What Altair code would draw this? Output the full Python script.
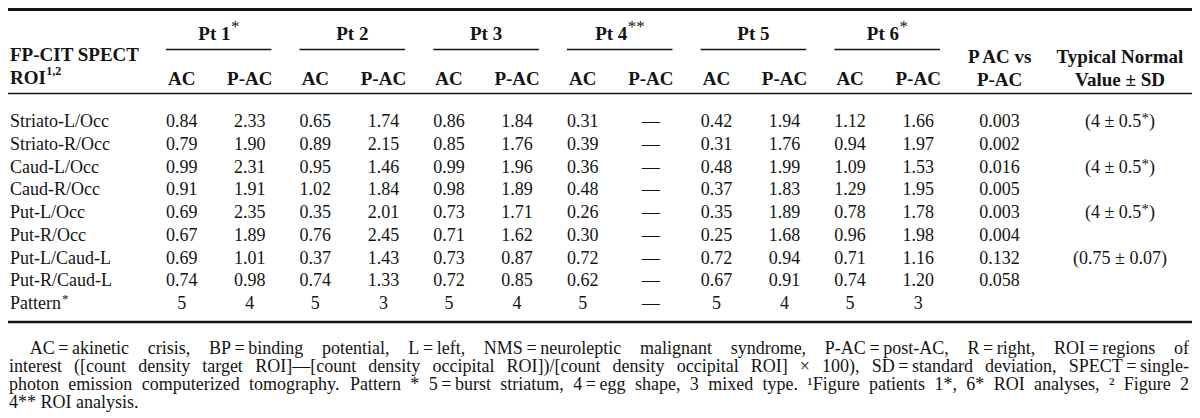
import altair as alt
import pandas as pd

# ---------------- data ----------------
roi_labels = ["Striato-L/Occ", "Striato-R/Occ", "Caud-L/Occ", "Caud-R/Occ",
              "Put-L/Occ", "Put-R/Occ", "Put-L/Caud-L", "Put-R/Caud-L", "Pattern"]
roi_label_sup = ["", "", "", "", "", "", "", "", "*"]

patients = ["Pt 1", "Pt 2", "Pt 3", "Pt 4", "Pt 5", "Pt 6"]
patient_sup = ["*", "", "", "**", "", "*"]
sub_headers = ["AC", "P-AC"]

pt1_ac = [0.84, 0.79, 0.99, 0.91, 0.69, 0.67, 0.69, 0.74, 5]
pt1_pac = [2.33, 1.90, 2.31, 1.91, 2.35, 1.89, 1.01, 0.98, 4]
pt2_ac = [0.65, 0.89, 0.95, 1.02, 0.35, 0.76, 0.37, 0.74, 5]
pt2_pac = [1.74, 2.15, 1.46, 1.84, 2.01, 2.45, 1.43, 1.33, 3]
pt3_ac = [0.86, 0.85, 0.99, 0.98, 0.73, 0.71, 0.73, 0.72, 5]
pt3_pac = [1.84, 1.76, 1.96, 1.89, 1.71, 1.62, 0.87, 0.85, 4]
pt4_ac = [0.31, 0.39, 0.36, 0.48, 0.26, 0.30, 0.72, 0.62, 5]
pt4_pac = [None, None, None, None, None, None, None, None, None]
pt5_ac = [0.42, 0.31, 0.48, 0.37, 0.35, 0.25, 0.72, 0.67, 5]
pt5_pac = [1.94, 1.76, 1.99, 1.83, 1.89, 1.68, 0.94, 0.91, 4]
pt6_ac = [1.12, 0.94, 1.09, 1.29, 0.78, 0.96, 0.71, 0.74, 5]
pt6_pac = [1.66, 1.97, 1.53, 1.95, 1.78, 1.98, 1.16, 1.20, 3]

p_ac_vs_pac = [0.003, 0.002, 0.016, 0.005, 0.003, 0.004, 0.132, 0.058, None]
normal_values = ["(4 ± 0.5*)", "", "(4 ± 0.5*)", "", "(4 ± 0.5*)", "",
                 "(0.75 ± 0.07)", "", ""]

roi_header = ["FP-CIT SPECT", "ROI"]
roi_header_sup = "1,2"
p_header = ["P AC vs", "P-AC"]
normal_header = ["Typical Normal", "Value ± SD"]

footnote_lines = [
    "AC = akinetic crisis, BP = binding potential, L = left, NMS = neuroleptic malignant syndrome, P-AC = post-AC, R = right, ROI = regions of",
    "interest ([count density target ROI]—[count density occipital ROI])/[count density occipital ROI] × 100), SD = standard deviation, SPECT = single-",
    "photon emission computerized tomography. Pattern * 5 = burst striatum, 4 = egg shape, 3 mixed type. ¹Figure patients 1*, 6* ROI analyses, ² Figure 2",
    "4** ROI analysis.",
]

ac_cols = [pt1_ac, pt2_ac, pt3_ac, pt4_ac, pt5_ac, pt6_ac]
pac_cols = [pt1_pac, pt2_pac, pt3_pac, pt4_pac, pt5_pac, pt6_pac]

# ---------------- layout ----------------
W, H = 1184, 410
REF_W = 1200
SX = W / REF_W
FONT = "Liberation Serif"
INK = "#141414"
BODY, HEAD, FOOT = 18, 19, 18

TR = {' ': 250, '!': 333, '(': 333, ')': 333, '*': 500, ',': 250, '-': 333, '.': 250,
      '/': 278, '=': 564, '[': 333, ']': 333, '×': 564, '—': 1000, '¹': 300, '²': 300,
      '±': 564, '\u2009': 200, ':': 278}
for ch, w in zip("ABCDEFGHIJKLMNOPQRSTUVWXYZ",
                 [722, 667, 667, 722, 611, 556, 722, 722, 333, 389, 722, 611, 889, 722, 722,
                  556, 722, 667, 556, 611, 722, 722, 944, 722, 722, 611]):
    TR[ch] = w
for ch, w in zip("abcdefghijklmnopqrstuvwxyz",
                 [444, 500, 444, 500, 444, 333, 500, 500, 278, 278, 500, 278, 778, 500, 500,
                  500, 500, 333, 389, 278, 500, 500, 722, 500, 500, 444]):
    TR[ch] = w
TB = {' ': 250, '*': 500, ',': 250, '-': 333, '±': 570, '.': 250}
for ch, w in zip("ABCDEFGHIJKLMNOPQRSTUVWXYZ",
                 [722, 667, 722, 722, 667, 611, 778, 778, 389, 500, 778, 667, 944, 722, 778,
                  611, 778, 722, 556, 667, 722, 722, 1000, 722, 722, 667]):
    TB[ch] = w
for ch, w in zip("abcdefghijklmnopqrstuvwxyz",
                 [500, 556, 444, 556, 444, 333, 500, 556, 278, 333, 556, 278, 833, 556, 500,
                  556, 556, 444, 389, 333, 556, 500, 722, 500, 500, 444]):
    TB[ch] = w


def tw(s, size, bold=False):
    tab = TB if bold else TR
    return sum(tab.get(c, 500) for c in s) * size / 1000.0


def px(d):
    return d / SX


recs = []
rules = []


def add(x, y, t, size, weight="normal", align="left"):
    recs.append(dict(x=x, y=y, text=t, size=size, weight=weight, align=align))


# rules of the table
rules.append(dict(x=0, x2=1200, y=1.5, sw=3.0))
rules.append(dict(x=0, x2=1200, y=85.5, sw=1.6))
rules.append(dict(x=0, x2=1200, y=314, sw=2.6))

# header
add(2, 53, roi_header[0], HEAD, "bold")
add(2, 76, roi_header[1], HEAD, "bold")
add(2 + px(tw(roi_header[1], HEAD, True) + 0.5), 67, roi_header_sup, 12, "bold")

PITCH = 135.5
for n, (name, sup) in enumerate(zip(patients, patient_sup)):
    gl = 160 + PITCH * n
    gr = 267 + PITCH * n
    gc = (gl + gr) / 2
    bw = tw(name, HEAD, True)
    sw = tw(sup, 17) if sup else 0
    left = gc - px((bw + sw) / 2)
    add(left, 32, name, HEAD, "bold")
    if sup:
        add(left + px(bw + 0.5), 23.5, sup, 17)
    rules.append(dict(x=gl, x2=gr, y=41.5, sw=1.6))
    add(176 + PITCH * n, 77, sub_headers[0], HEAD, "bold", "center")
    add(245 + PITCH * n, 77, sub_headers[1], HEAD, "bold", "center")

P_C = 1005
N_C = 1127
add(P_C, 55, p_header[0], HEAD, "bold", "center")
add(P_C, 78, p_header[1], HEAD, "bold", "center")
add(N_C, 55, normal_header[0], HEAD, "bold", "center")
add(N_C, 78, normal_header[1], HEAD, "bold", "center")

# body
def fmt(v, i):
    if v is None:
        return "—"
    if i == len(roi_labels) - 1:
        return str(int(v))
    return f"{v:.2f}"


for i, lab in enumerate(roi_labels):
    y = 119 + 22.75 * i
    add(2, y, lab, BODY)
    if roi_label_sup[i]:
        add(2 + px(tw(lab, BODY) + 1), y - 6, roi_label_sup[i], 13)
    for n in range(6):
        add(176 + PITCH * n, y, fmt(ac_cols[n][i], i), BODY, "normal", "center")
        add(245 + PITCH * n, y, fmt(pac_cols[n][i], i), BODY, "normal", "center")
    if p_ac_vs_pac[i] is not None:
        add(P_C, y, f"{p_ac_vs_pac[i]:.3f}", BODY, "normal", "center")
    s = normal_values[i]
    if s:
        if "*" in s:
            a, b = s.split("*")
            w1, ws, w2 = tw(a, BODY), tw("*", 15), tw(b, BODY)
            left = N_C - px((w1 + ws + w2) / 2)
            add(left, y, a, BODY)
            add(left + px(w1), y - 4, "*", 15)
            add(left + px(w1 + ws), y, b, BODY)
        else:
            add(N_C, y, s, BODY, "normal", "center")

# footnote, justified word by word
foot_y = [346, 364, 382, 400]
for k, line in enumerate(footnote_lines):
    x0 = 22 if k == 0 else 1
    x1 = 1197
    toks = line.replace(" = ", "\u2009=\u2009").split(" ")
    size = FOOT
    last = k == len(footnote_lines) - 1
    if last:
        gap = tw(" ", size)
    else:
        while True:
            widths = [tw(t, size) for t in toks]
            gap = ((x1 - x0) * SX - sum(widths)) / (len(toks) - 1)
            if gap >= 3 or size <= 12:
                break
            size -= 0.25
    xp = x0 * SX
    for t in toks:
        add(xp / SX, foot_y[k], t, size)
        xp += tw(t, size) + gap

# ---------------- chart ----------------
df = pd.DataFrame(recs)
rdf = pd.DataFrame(rules)

xs = alt.Scale(domain=[0, REF_W], nice=False, zero=False)
ys = alt.Scale(domain=[0, H], reverse=True, nice=False, zero=False)

layers = [
    alt.Chart(rdf).mark_rule(color=INK).encode(
        x=alt.X("x:Q", scale=xs, axis=None),
        x2="x2:Q",
        y=alt.Y("y:Q", scale=ys, axis=None),
        strokeWidth=alt.StrokeWidth("sw:Q", scale=None, legend=None),
    )
]
for (weight, align), g in df.groupby(["weight", "align"]):
    layers.append(
        alt.Chart(g.reset_index(drop=True)).mark_text(
            font=FONT, fontWeight=weight, align=align, baseline="alphabetic", color=INK
        ).encode(
            x=alt.X("x:Q", scale=xs, axis=None),
            y=alt.Y("y:Q", scale=ys, axis=None),
            text="text:N",
            size=alt.Size("size:Q", scale=None, legend=None),
        )
    )

chart = alt.layer(*layers).properties(
    width=W, height=H, padding=0,
    autosize=alt.AutoSizeParams(type="none"),
    background="white",
).configure_view(stroke=None)

chart.save("out.html", embed_options={"renderer": "svg", "actions": False})
